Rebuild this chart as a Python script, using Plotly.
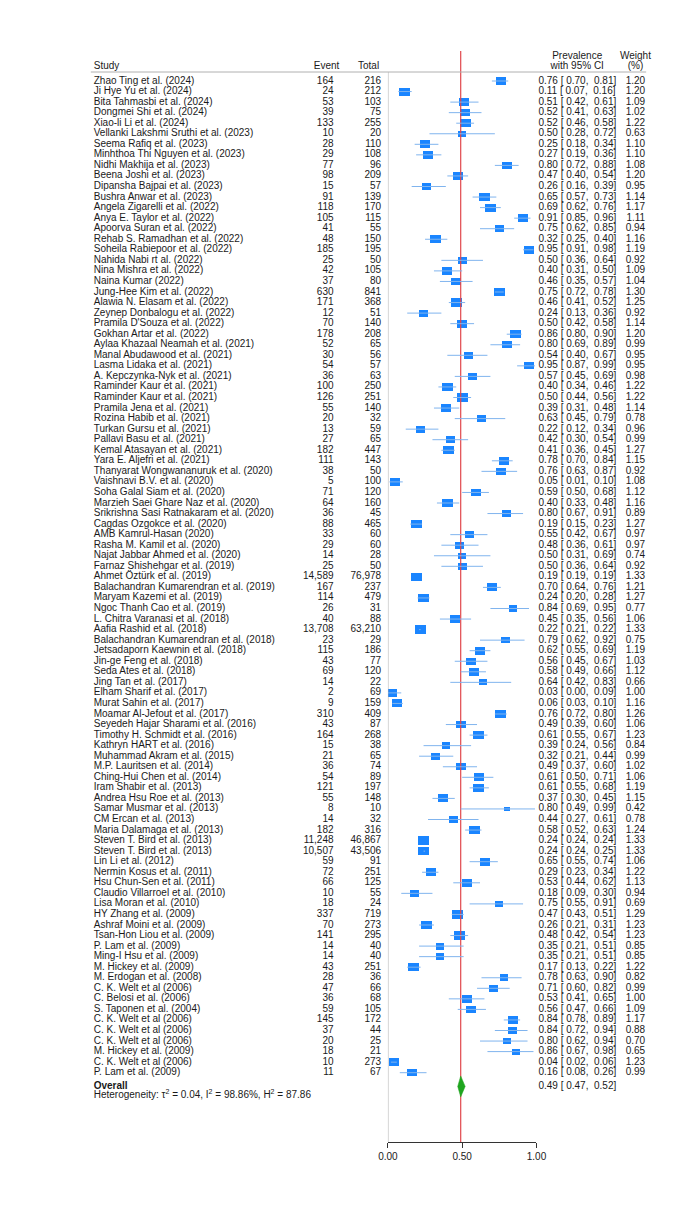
import math
import plotly.graph_objects as go

# ---------------- data ----------------
studies = [
    "Zhao Ting et al. (2024)", "Ji Hye Yu et al. (2024)", "Bita Tahmasbi et al. (2024)",
    "Dongmei Shi et al. (2024)", "Xiao-li Li et al. (2024)", "Vellanki Lakshmi Sruthi et al. (2023)",
    "Seema Rafiq et al. (2023)", "Minhthoa Thi Nguyen et al. (2023)", "Nidhi Makhija et al. (2023)",
    "Beena Joshi et al. (2023)", "Dipansha Bajpai et al. (2023)", "Bushra Anwar et al. (2023)",
    "Angela Zigarelli et al. (2022)", "Anya E. Taylor et al. (2022)", "Apoorva Suran et al. (2022)",
    "Rehab S. Ramadhan et al. (2022)", "Soheila Rabiepoor et al. (2022)", "Nahida Nabi rt al. (2022)",
    "Nina Mishra et al. (2022)", "Naina Kumar (2022)", "Jung-Hee Kim et al. (2022)",
    "Alawia N. Elasam et al. (2022)", "Zeynep Donbalogu et al. (2022)", "Pramila D'Souza et al. (2022)",
    "Gokhan Artar et al. (2022)", "Aylaa Khazaal Neamah et al. (2021)", "Manal Abudawood et al. (2021)",
    "Lasma Lidaka et al. (2021)", "A. Kepczynka-Nyk et al. (2021)", "Raminder Kaur et al. (2021)",
    "Raminder Kaur et al. (2021)", "Pramila Jena et al. (2021)", "Rozina Habib et al. (2021)",
    "Turkan Gursu et al. (2021)", "Pallavi Basu et al. (2021)", "Kemal Atasayan et al. (2021)",
    "Yara E. Aljefri et al. (2021)", "Thanyarat Wongwananuruk et al. (2020)", "Vaishnavi B.V. et al. (2020)",
    "Soha Galal Siam et al. (2020)", "Marzieh Saei Ghare Naz et al. (2020)", "Srikrishna Sasi Ratnakaram et al. (2020)",
    "Cagdas Ozgokce et al. (2020)", "AMB Kamrul-Hasan (2020)", "Rasha M. Kamil et al. (2020)",
    "Najat Jabbar Ahmed et al. (2020)", "Farnaz Shishehgar et al. (2019)", "Ahmet Öztürk et al. (2019)",
    "Balachandran Kumarendran et al. (2019)", "Maryam Kazemi et al. (2019)", "Ngoc Thanh Cao et al. (2019)",
    "L. Chitra Varanasi et al. (2018)", "Aafia Rashid et al. (2018)", "Balachandran Kumarendran et al. (2018)",
    "Jetsadaporn Kaewnin et al. (2018)", "Jin-ge Feng et al. (2018)", "Seda Ates et al. (2018)",
    "Jing Tan et al. (2017)", "Elham Sharif et al. (2017)", "Murat Sahin et al. (2017)",
    "Moamar Al-Jefout et al. (2017)", "Seyedeh Hajar Sharami et al. (2016)", "Timothy H. Schmidt et al. (2016)",
    "Kathryn HART et al. (2016)", "Muhammad Akram et al. (2015)", "M.P. Lauritsen et al. (2014)",
    "Ching-Hui Chen et al. (2014)", "Iram Shabir et al. (2013)", "Andrea Hsu Roe et al. (2013)",
    "Samar Musmar et al. (2013)", "CM Ercan et al. (2013)", "Maria Dalamaga et al. (2013)",
    "Steven T. Bird et al. (2013)", "Steven T. Bird et al. (2013)", "Lin Li et al. (2012)",
    "Nermin Kosus et al. (2011)", "Hsu Chun-Sen et al. (2011)", "Claudio Villarroel et al. (2010)",
    "Lisa Moran et al. (2010)", "HY Zhang et al. (2009)", "Ashraf Moini et al. (2009)",
    "Tsan-Hon Liou et al. (2009)", "P. Lam et al. (2009)", "Ming-I Hsu et al. (2009)",
    "M. Hickey et al. (2009)", "M. Erdogan et al. (2008)", "C. K. Welt et al (2006)",
    "C. Belosi et al. (2006)", "S. Taponen et al. (2004)", "C. K. Welt et al (2006)",
    "C. K. Welt et al (2006)", "C. K. Welt et al (2006)", "M. Hickey et al. (2009)",
    "C. K. Welt et al (2006)", "P. Lam et al. (2009)",
]
events = [164, 24, 53, 39, 133, 10, 28, 29, 77, 98, 15, 91, 118, 105, 41, 48, 185, 25, 42, 37,
          630, 171, 12, 70, 178, 52, 30, 54, 36, 100, 126, 55, 20, 13, 27, 182, 111, 38, 5, 71,
          64, 36, 88, 33, 29, 14, 25, 14589, 167, 114, 26, 40, 13708, 23, 115, 43, 69, 14, 2, 9,
          310, 43, 164, 15, 21, 36, 54, 121, 55, 8, 14, 182, 11248, 10507, 59, 72, 66, 10, 18, 337,
          70, 141, 14, 14, 43, 28, 47, 36, 59, 145, 37, 20, 18, 10, 11]
totals = [216, 212, 103, 75, 255, 20, 110, 108, 96, 209, 57, 139, 170, 115, 55, 150, 195, 50, 105, 80,
          841, 368, 51, 140, 208, 65, 56, 57, 63, 250, 251, 140, 32, 59, 65, 447, 143, 50, 100, 120,
          160, 45, 465, 60, 60, 28, 50, 76978, 237, 479, 31, 88, 63210, 29, 186, 77, 120, 22, 69, 159,
          409, 87, 268, 38, 65, 74, 89, 197, 148, 10, 32, 316, 46867, 43506, 91, 251, 125, 55, 24, 719,
          273, 295, 40, 40, 251, 36, 66, 68, 105, 172, 44, 25, 21, 273, 67]
prev = [0.76, 0.11, 0.51, 0.52, 0.52, 0.50, 0.25, 0.27, 0.80, 0.47, 0.26, 0.65, 0.69, 0.91, 0.75, 0.32, 0.95, 0.50, 0.40, 0.46,
        0.75, 0.46, 0.24, 0.50, 0.86, 0.80, 0.54, 0.95, 0.57, 0.40, 0.50, 0.39, 0.63, 0.22, 0.42, 0.41, 0.78, 0.76, 0.05, 0.59,
        0.40, 0.80, 0.19, 0.55, 0.48, 0.50, 0.50, 0.19, 0.70, 0.24, 0.84, 0.45, 0.22, 0.79, 0.62, 0.56, 0.58, 0.64, 0.03, 0.06,
        0.76, 0.49, 0.61, 0.39, 0.32, 0.49, 0.61, 0.61, 0.37, 0.80, 0.44, 0.58, 0.24, 0.24, 0.65, 0.29, 0.53, 0.18, 0.75, 0.47,
        0.26, 0.48, 0.35, 0.35, 0.17, 0.78, 0.71, 0.53, 0.56, 0.84, 0.84, 0.80, 0.86, 0.04, 0.16]
ci_low = [0.70, 0.07, 0.42, 0.41, 0.46, 0.28, 0.18, 0.19, 0.72, 0.40, 0.16, 0.57, 0.62, 0.85, 0.62, 0.25, 0.91, 0.36, 0.31, 0.35,
          0.72, 0.41, 0.13, 0.42, 0.80, 0.69, 0.40, 0.87, 0.45, 0.34, 0.44, 0.31, 0.45, 0.12, 0.30, 0.36, 0.70, 0.63, 0.01, 0.50,
          0.33, 0.67, 0.15, 0.42, 0.36, 0.31, 0.36, 0.19, 0.64, 0.20, 0.69, 0.35, 0.21, 0.62, 0.55, 0.45, 0.49, 0.42, 0.00, 0.03,
          0.72, 0.39, 0.55, 0.24, 0.21, 0.37, 0.50, 0.55, 0.30, 0.49, 0.27, 0.52, 0.24, 0.24, 0.55, 0.23, 0.44, 0.09, 0.55, 0.43,
          0.21, 0.42, 0.21, 0.21, 0.13, 0.63, 0.60, 0.41, 0.47, 0.78, 0.72, 0.62, 0.67, 0.02, 0.08]
ci_high = [0.81, 0.16, 0.61, 0.63, 0.58, 0.72, 0.34, 0.36, 0.88, 0.54, 0.39, 0.73, 0.76, 0.96, 0.85, 0.40, 0.98, 0.64, 0.50, 0.57,
           0.78, 0.52, 0.36, 0.58, 0.90, 0.89, 0.67, 0.99, 0.69, 0.46, 0.56, 0.48, 0.79, 0.34, 0.54, 0.45, 0.84, 0.87, 0.10, 0.68,
           0.48, 0.91, 0.23, 0.67, 0.61, 0.69, 0.64, 0.19, 0.76, 0.28, 0.95, 0.56, 0.22, 0.92, 0.69, 0.67, 0.66, 0.83, 0.09, 0.10,
           0.80, 0.60, 0.67, 0.56, 0.44, 0.60, 0.71, 0.68, 0.45, 0.99, 0.61, 0.63, 0.24, 0.25, 0.74, 0.34, 0.62, 0.30, 0.91, 0.51,
           0.31, 0.54, 0.51, 0.51, 0.22, 0.90, 0.82, 0.65, 0.66, 0.89, 0.94, 0.94, 0.98, 0.06, 0.26]
weights = [1.20, 1.20, 1.09, 1.02, 1.22, 0.63, 1.10, 1.10, 1.08, 1.20, 0.95, 1.14, 1.17, 1.11, 0.94, 1.16, 1.19, 0.92, 1.09, 1.04,
           1.30, 1.25, 0.92, 1.14, 1.20, 0.99, 0.95, 0.95, 0.98, 1.22, 1.22, 1.14, 0.78, 0.96, 0.99, 1.27, 1.15, 0.92, 1.08, 1.12,
           1.16, 0.89, 1.27, 0.97, 0.97, 0.74, 0.92, 1.33, 1.21, 1.27, 0.77, 1.06, 1.33, 0.75, 1.19, 1.03, 1.12, 0.66, 1.00, 1.16,
           1.26, 1.06, 1.23, 0.84, 0.99, 1.02, 1.06, 1.19, 1.15, 0.42, 0.78, 1.24, 1.33, 1.33, 1.06, 1.22, 1.13, 0.94, 0.69, 1.29,
           1.23, 1.23, 0.85, 0.85, 1.22, 0.82, 0.99, 1.00, 1.09, 1.17, 0.88, 0.70, 0.65, 1.23, 0.99]

overall_label = "Overall"
overall_est, overall_lo, overall_hi = 0.49, 0.47, 0.52
heterogeneity = "Heterogeneity: \u03c4<sup>2</sup> = 0.04, I<sup>2</sup> = 98.86%, H<sup>2</sup> = 87.86"
x_tickvals = [0.0, 0.5, 1.0]
x_ticktext = ["0.00", "0.50", "1.00"]

# ---------------- layout constants ----------------
W, H = 687, 1210
Y0, DY = 73.0, 10.55          # pixel of first row, row spacing
X_ZERO, X_ONE = 381.0, 534.0  # pixel of 0 and 1 on forest axis
PX_PER_UNIT = X_ONE - X_ZERO
FONT = "Liberation Sans, Arial, Helvetica, sans-serif"
FS = 10
TXT = "#1a1a1a"
BOX = "#1A85FF"
CI = "#80B4EE"
GREEN = "#1FA51F"
RED = "#E0474C"
GRAY = "#A8A8A8"

def prow(px):
    return (px - Y0) / DY

n = len(studies)
rows = list(range(n))
overall_row = n + 0.3
het_row = n + 1.2
hdr_row = prow(58)
hdr_row_top = prow(48)
hdr_line_row = prow(64)
axis_px = 1134
axis_row = prow(axis_px)

fig = go.Figure()

# reference lines
fig.add_trace(go.Scatter(x=[0, 0], y=[hdr_line_row, axis_row], mode="lines",
                         line=dict(color=GRAY, width=1), hoverinfo="skip", cliponaxis=False))
fig.add_trace(go.Scatter(x=[overall_est, overall_est], y=[prow(43), axis_row], mode="lines",
                         line=dict(color=RED, width=1.2), hoverinfo="skip", cliponaxis=False))

# confidence intervals
cx, cy = [], []
for r, lo, hi in zip(rows, ci_low, ci_high):
    cx += [lo, hi, None]
    cy += [r, r, None]
fig.add_trace(go.Scatter(x=cx, y=cy, mode="lines", line=dict(color=CI, width=1),
                         hoverinfo="skip", cliponaxis=False))

# weighted boxes
bw = [11.0 * math.sqrt(w / 1.23) / PX_PER_UNIT for w in weights]
bh = [8.2 * math.sqrt(w / 1.23) / DY for w in weights]
fig.add_trace(go.Bar(y=rows, x=bw, base=[p - b / 2 for p, b in zip(prev, bw)], width=bh,
                     orientation="h", marker=dict(color=BOX, line=dict(width=0)),
                     hoverinfo="skip", cliponaxis=False))

# overall diamond
dh = 10.5 / DY
fig.add_trace(go.Scatter(x=[overall_lo, overall_est, overall_hi, overall_est, overall_lo],
                         y=[overall_row, overall_row - dh, overall_row, overall_row + dh, overall_row],
                         mode="lines", fill="toself", fillcolor=GREEN,
                         line=dict(color=GREEN, width=0.5), hoverinfo="skip", cliponaxis=False))

# ---------------- text columns (pixel x-axis x2) ----------------
def txt(xpx, ys, texts, pos, size=FS):
    fig.add_trace(go.Scatter(x=[xpx] * len(ys), y=ys, text=texts, mode="text",
                             textposition=pos, xaxis="x2", yaxis="y",
                             marker=dict(size=0),
                             textfont=dict(family=FONT, size=size, color=TXT),
                             hoverinfo="skip", cliponaxis=False))

X_NAME, X_EVENT, X_TOTAL, X_PREV, X_WEIGHT = 78, 325, 374, 536, 646

def fmt_ci(p, lo, hi):
    return f"{p:.2f} [\u00a0{lo:.2f},\u00a0\u00a0{hi:.2f}]"

txt(X_NAME, rows, studies, "middle right")
txt(X_EVENT, rows, [f"{e:,}" for e in events], "middle left")
txt(X_TOTAL, rows, [f"{t:,}" for t in totals], "middle left")
txt(X_PREV, rows, [fmt_ci(p, l, h) for p, l, h in zip(prev, ci_low, ci_high)], "middle right")
txt(X_WEIGHT, rows, [f"{w:.2f}" for w in weights], "middle left")

# headers
txt(X_NAME, [hdr_row], ["Study"], "middle right")
txt(331, [hdr_row], ["Event"], "middle left")
txt(372, [hdr_row], ["Total"], "middle left")
txt(576, [hdr_row_top, hdr_row], ["Prevalence", "with 95% CI"], "middle center")
txt(636, [hdr_row_top, hdr_row], ["Weight", "(%)"], "middle center")

# overall + heterogeneity
txt(X_NAME, [overall_row], [f"<b>{overall_label}</b>"], "middle right")
txt(X_PREV, [overall_row], [fmt_ci(overall_est, overall_lo, overall_hi)], "middle right")
txt(X_NAME, [het_row], [heterogeneity], "middle right")

# header rule
fig.add_trace(go.Scatter(x=[75, 647], y=[hdr_line_row, hdr_line_row], mode="lines",
                         xaxis="x2", yaxis="y", line=dict(color="#B0B0B0", width=1),
                         hoverinfo="skip", cliponaxis=False))

fig.update_layout(
    width=W, height=H, autosize=False,
    margin=dict(l=0, r=0, t=0, b=0),
    paper_bgcolor="white", plot_bgcolor="rgba(0,0,0,0)",
    showlegend=False,
    xaxis=dict(domain=[X_ZERO / W, X_ONE / W], range=[0, 1], anchor="free",
               position=1 - axis_px / H, showline=True, linecolor="#333", linewidth=1,
               ticks="outside", ticklen=5, tickcolor="#333", tickvals=x_tickvals,
               ticktext=x_ticktext, tickfont=dict(family=FONT, size=FS, color=TXT),
               showgrid=False, zeroline=False, fixedrange=True),
    xaxis2=dict(domain=[0, 1], range=[0, W], anchor="y", visible=False, fixedrange=True),
    yaxis=dict(domain=[0, 1], range=[(H - Y0) / DY, -Y0 / DY], visible=False, fixedrange=True),
    bargap=0,
)

fig.write_html("out.html")
